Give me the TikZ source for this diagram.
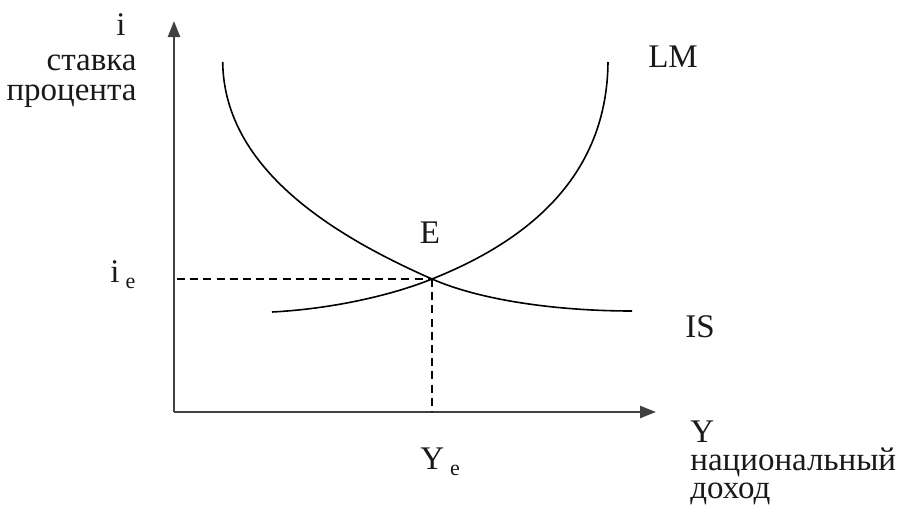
\documentclass[tikz,border=0pt]{standalone}
\usepackage{fontspec}
\setmainfont{Liberation Serif}
\usetikzlibrary{arrows.meta}
\tikzset{
  axisline/.style={draw=black!75, line width=1.2pt, -{Triangle[length=8pt,width=6pt]}},
  curveline/.style={draw=black, line width=0.8pt},
  dashline/.style={draw=black, line width=0.8pt, dash pattern=on 4pt off 2.6pt},
  lbl/.style={font=\fontsize{16.5}{17}\selectfont, inner sep=0pt, text=black!90}
}
\newcommand{\subE}{\hspace{3pt}\raisebox{-3pt}{\fontsize{11}{12}\selectfont e}}
\begin{document}
\begin{tikzpicture}[x=0.5pt,y=-0.5pt]
\useasboundingbox (0,0) rectangle (901,514);
% coordinates
\coordinate (O) at (174,412);
\coordinate (ytip) at (174,21);
\coordinate (xtip) at (656,412);
\coordinate (Ept) at (432,279);
\coordinate (iestart) at (177,279);
\coordinate (yefoot) at (432,412);
\coordinate (IStop) at (222.7,62);
\coordinate (ISend) at (632,311);
\coordinate (LMstart) at (272,312);
\coordinate (LMtop) at (608,62);
% axes
\draw[axisline] (O) -- (ytip);
\draw[axisline] (O) -- (xtip);
% dashed guides
\draw[dashline] (iestart) -- (Ept);
\draw[dashline] (Ept) -- (yefoot);
% IS curve
\draw[curveline] (IStop) .. controls (224,165) and (325,232) .. (Ept)
                        .. controls (482,301) and (560,311) .. (ISend);
% LM curve
\draw[curveline] (LMstart) .. controls (330,309) and (390,296) .. (Ept)
                          .. controls (530,240) and (607,175) .. (LMtop);
% labels
\node[lbl, anchor=base] (li) at (121,35) {i};
\node[lbl, anchor=base east] (lstavka) at (137,70) {ставка};
\node[lbl, anchor=base east] (lprocenta) at (137,100) {процента};
\node[lbl, anchor=base west] (lie) at (110,282) {i\subE};
\node[lbl, anchor=base] (lE) at (430,243) {E};
\node[lbl, anchor=base] (lLM) at (673,68) {LM};
\node[lbl, anchor=base] (lIS) at (700,337) {IS};
\node[lbl, anchor=north west, align=left, font=\fontsize{16.5}{14}\selectfont] (lYaxis) at (690,420.5) {Y\\национальный\\доход};
\node[lbl, anchor=base west] (lYe) at (420,469) {Y\subE};
\end{tikzpicture}
\end{document}
